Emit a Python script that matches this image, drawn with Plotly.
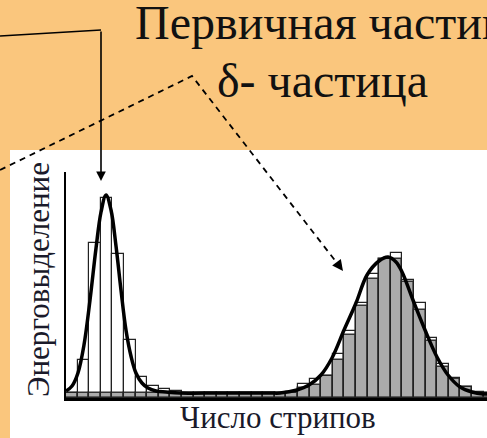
import plotly.graph_objects as go

W, H = 487, 438

# ---- data (bin index units, heights in arbitrary energy units) ----
bin_index = list(range(37))
gray_hist = [5]*19 + [5, 10, 13, 22, 38, 63, 92, 119, 139, 139, 116, 88, 57, 31, 19, 11, 5, 5]
open_hist = [5, 38, 155, 200, 144, 58, 21, 12, 9, 7] + [5]*9 + \
            [6, 14, 19, 22, 44, 67, 95, 124, 139, 145, 118, 95, 60, 34, 20, 11, 6, 5]

curve_x = [0.0, 0.52, 1.03, 1.55, 2.07, 2.59, 3.02, 3.45, 3.88, 4.31, 4.74, 5.17, 5.60,
           6.03, 6.55, 7.07, 7.76, 8.62, 9.83, 13.28, 17.59, 18.45, 19.91, 20.95, 21.98,
           22.93, 23.97, 25.0, 25.95, 26.98, 27.76, 28.45, 28.97, 29.91, 30.95, 31.98,
           32.93, 33.97, 35.0, 35.95, 36.55]
curve_y = [7, 12, 25, 53, 98, 150, 186, 203, 188, 152, 108, 68, 42,
           25, 15, 10, 7, 6, 5, 5, 5, 5, 8, 13, 23,
           40, 68, 95, 123, 137, 141, 136, 126, 98, 68, 41,
           23, 11, 6, 4, 4]

y_title = "Энерговыделение"
x_title = "Число стрипов"
title1 = "Первичная частица"
title2 = "δ- частица"

SERIF = "Times New Roman, Liberation Serif, serif"
ORANGE = "#FAC67D"


def px(x):
    return x / W


def py(y):
    return 1 - y / H


fig = go.Figure()
fig.add_trace(go.Bar(
    x=[i + 0.5 for i in bin_index], y=gray_hist, width=1,
    marker=dict(color="#ABABAB", line=dict(color="#333333", width=1.5)),
    showlegend=False, hoverinfo="skip"))
fig.add_trace(go.Bar(
    x=[i + 0.5 for i in bin_index], y=open_hist, width=1,
    marker=dict(color="rgba(0,0,0,0)", line=dict(color="#222222", width=1.2)),
    showlegend=False, hoverinfo="skip"))
fig.add_trace(go.Scatter(
    x=curve_x, y=curve_y, mode="lines", line=dict(color="black", width=3.5, shape="spline"),
    showlegend=False, hoverinfo="skip"))

x_len = (W - 66) / 11.6

fig.update_layout(
    width=W, height=H,
    margin=dict(l=0, r=0, t=0, b=0),
    paper_bgcolor=ORANGE,
    plot_bgcolor="rgba(0,0,0,0)",
    barmode="overlay", bargap=0,
    xaxis=dict(domain=[px(66), 1], range=[0, x_len], showgrid=False, zeroline=False,
               showticklabels=False, ticks="", showline=True, linecolor="black", linewidth=2.5),
    yaxis=dict(domain=[py(398), py(172)], range=[0, 226], showgrid=False, zeroline=False,
               showticklabels=False, ticks="", showline=True, linecolor="black", linewidth=2),
    shapes=[
        dict(type="rect", xref="paper", yref="paper", x0=px(10), x1=1, y0=0, y1=py(150),
             fillcolor="white", line=dict(width=0), layer="below"),
        dict(type="path", xref="paper", yref="paper",
             path=f"M {px(0)},{py(36)} L {px(101)},{py(30)}",
             line=dict(color="black", width=1.6), layer="above"),
        dict(type="path", xref="paper", yref="paper",
             path=f"M {px(0)},{py(170)} L {px(192)},{py(76)} L {px(337)},{py(263)}",
             line=dict(color="black", width=1.8, dash="6px,5px"), layer="above"),
    ],
    annotations=[
        dict(x=px(101), y=py(181), xref="paper", yref="paper", text="", showarrow=True,
             ax=0, ay=-151, arrowhead=2, arrowsize=1.2, arrowwidth=1.6, arrowcolor="black"),
        dict(x=px(343), y=py(271), xref="paper", yref="paper", text="", showarrow=True,
             ax=-6, ay=-8, arrowhead=2, arrowsize=1.2, arrowwidth=1.8, arrowcolor="black"),
        dict(x=px(133), y=py(22), xref="paper", yref="paper", text=title1, showarrow=False,
             xanchor="left", yanchor="middle", font=dict(family=SERIF, size=48, color="#111111")),
        dict(x=px(322), y=py(81), xref="paper", yref="paper", text=title2, showarrow=False,
             xanchor="center", yanchor="middle", font=dict(family=SERIF, size=48, color="#111111")),
        dict(x=px(38), y=py(280), xref="paper", yref="paper", text=y_title, showarrow=False,
             textangle=-90, xanchor="center", yanchor="middle",
             font=dict(family=SERIF, size=31, color="#1a1a2a")),
        dict(x=px(278), y=py(417), xref="paper", yref="paper", text=x_title, showarrow=False,
             xanchor="center", yanchor="middle", font=dict(family=SERIF, size=31, color="#1a1a2a")),
    ],
)

fig.write_html("out.html")
